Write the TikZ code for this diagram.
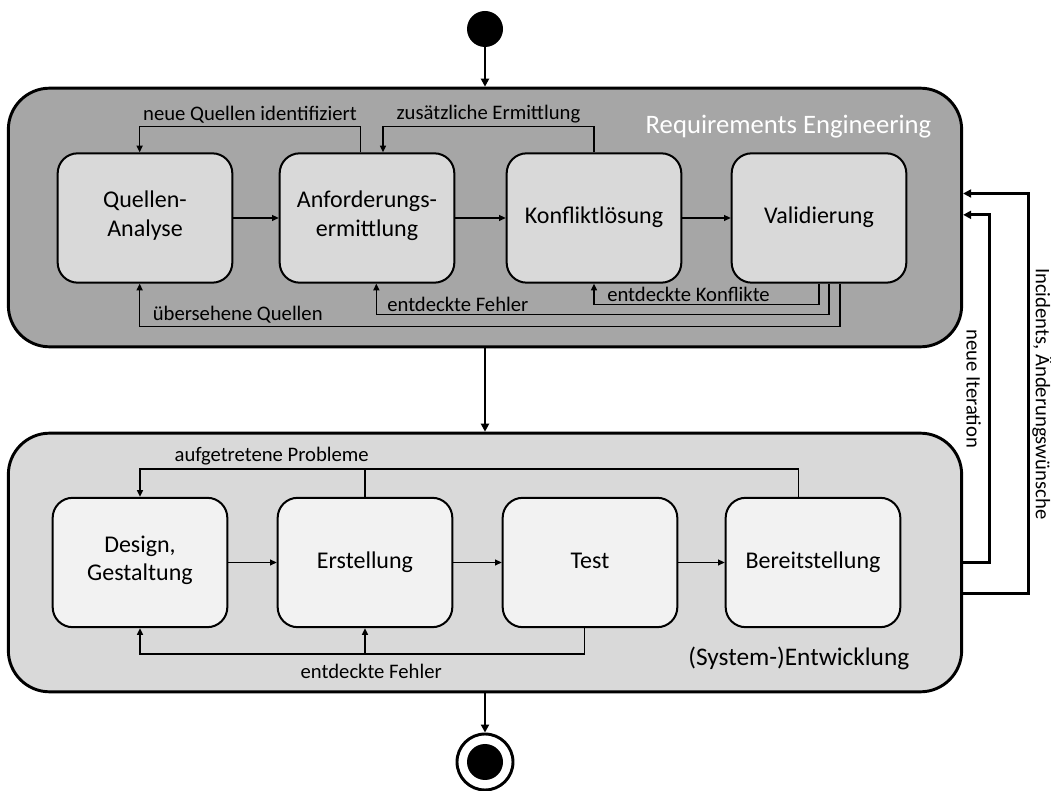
\documentclass[tikz,border=0pt]{standalone}
\usepackage{fontspec}
\setmainfont{Carlito}
\usetikzlibrary{arrows.meta}

\definecolor{regray}{HTML}{A6A6A6}
\definecolor{midgray}{HTML}{D9D9D9}
\definecolor{lightgray}{HTML}{F2F2F2}

\tikzset{
  phase/.style={draw, line width=2.2pt, rounded corners=31pt, minimum width=715pt, minimum height=194pt},
  act/.style={draw, line width=1.5pt, rounded corners=15pt, minimum width=131pt, minimum height=97pt,
    align=center, font=\fontsize{18}{21.5}\selectfont, execute at begin node=\strut},
  fb/.style={line width=1.1pt, -{Triangle[length=5pt,width=4.5pt]}},
  flow/.style={line width=2.2pt, -{Triangle[length=6pt,width=6pt]}},
  lbl/.style={font=\fontsize{15.5}{18}\selectfont, inner sep=2pt}
}

\begin{document}
\begin{tikzpicture}[x=0.75pt, y=-0.75pt]
	\useasboundingbox (0,0) rectangle (1051,791);

	% start / end
	\node[circle, fill=black, minimum size=27pt, inner sep=0pt] (start) at (485,29) {};
	\node[circle, draw, fill=white, line width=2.2pt, minimum size=42pt, inner sep=0pt] (stop) at (485,762) {};
	\node[circle, fill=black, minimum size=27pt, inner sep=0pt] at (stop) {};

	% Requirements Engineering
	\node[phase, fill=regray] (re) at (485,217.5) {};
	\node[anchor=east, text=white, font=\fontsize{20}{24}\selectfont] (retitle) at (936,127) {Requirements Engineering};
	\node[act, fill=midgray] (qa) at (145,218) {Quellen-\\Analyse};
	\node[act, fill=midgray] (anf) at (367,218) {Anforderungs-\\ermittlung};
	\node[act, fill=midgray] (kon) at (594,218) {Konfliktlösung};
	\node[act, fill=midgray] (val) at (819,218) {Validierung};

	\draw[fb] (qa) -- (anf);
	\draw[fb] (anf) -- (kon);
	\draw[fb] (kon) -- (val);
	\draw[fb] ([xshift=-5pt]anf.north) -- ++(0,-26) -| node[lbl, pos=0.25, above]{neue Quellen identifiziert} ([xshift=-4pt]qa.north);
	\draw[fb] (kon.north) -- ++(0,-26) -| node[lbl, pos=0.25, above]{zusätzliche Ermittlung} ([xshift=12pt]anf.north);
	\draw[fb] (val.south) -- ++(0,21) -| node[lbl, pos=0.29, above]{entdeckte Konflikte} (kon.south);
	\draw[fb] ([xshift=7.5pt]val.south) -- ++(0,31) -| node[lbl, pos=0.41, above]{entdeckte Fehler} ([xshift=7pt]anf.south);
	\draw[fb] ([xshift=15.75pt]val.south) -- ++(0,43) -| node[lbl, pos=0.43, above]{übersehene Quellen} ([xshift=-4pt]qa.south);

	% (System-)Entwicklung
	\node[phase, fill=midgray] (ent) at (485,562.5) {};
	\node[anchor=east, font=\fontsize{19}{23}\selectfont] (enttitle) at (914,658) {(System-)Entwicklung};
	\node[act, fill=lightgray] (des) at (140,562.5) {Design,\\Gestaltung};
	\node[act, fill=lightgray] (ers) at (365,562.5) {Erstellung};
	\node[act, fill=lightgray] (tst) at (590,562.5) {Test};
	\node[act, fill=lightgray] (ber) at (813,562.5) {Bereitstellung};

	\draw[fb] (des) -- (ers);
	\draw[fb] (ers) -- (tst);
	\draw[fb] (tst) -- (ber);
	\draw[fb] ([xshift=-11pt]ber.north) -- ++(0,-28) -| node[lbl, pos=0.4, above]{aufgetretene Probleme} (des.north);
	\draw[line width=1.1pt] (ers.north) -- ++(0,-28);
	\draw[fb] ([xshift=-4pt]tst.south) -- ++(0,26) -| node[lbl, pos=0.24, below=5pt]{entdeckte Fehler} (des.south);
	\coordinate (fj) at ([yshift=-19.5pt]ers.south);
	\draw[fb] (fj) -- (ers.south);

	% main flow
	\draw[flow] (start) -- (re);
	\draw[flow] (re) -- (ent);
	\draw[flow] (ent) -- (stop);
	\draw[flow] (ent.east) -- ++(26,0) |- node[lbl, pos=0.25, rotate=-90, anchor=north, inner sep=5pt]{neue Iteration} ([yshift=2pt]re.east);
	\draw[flow] ([yshift=-23.6pt]ent.east) -- ++(65,0) |- node[lbl, pos=0.25, rotate=-90, anchor=south, inner sep=2pt]{Incidents, Änderungswünsche} ([yshift=18pt]re.east);
\end{tikzpicture}
\end{document}
